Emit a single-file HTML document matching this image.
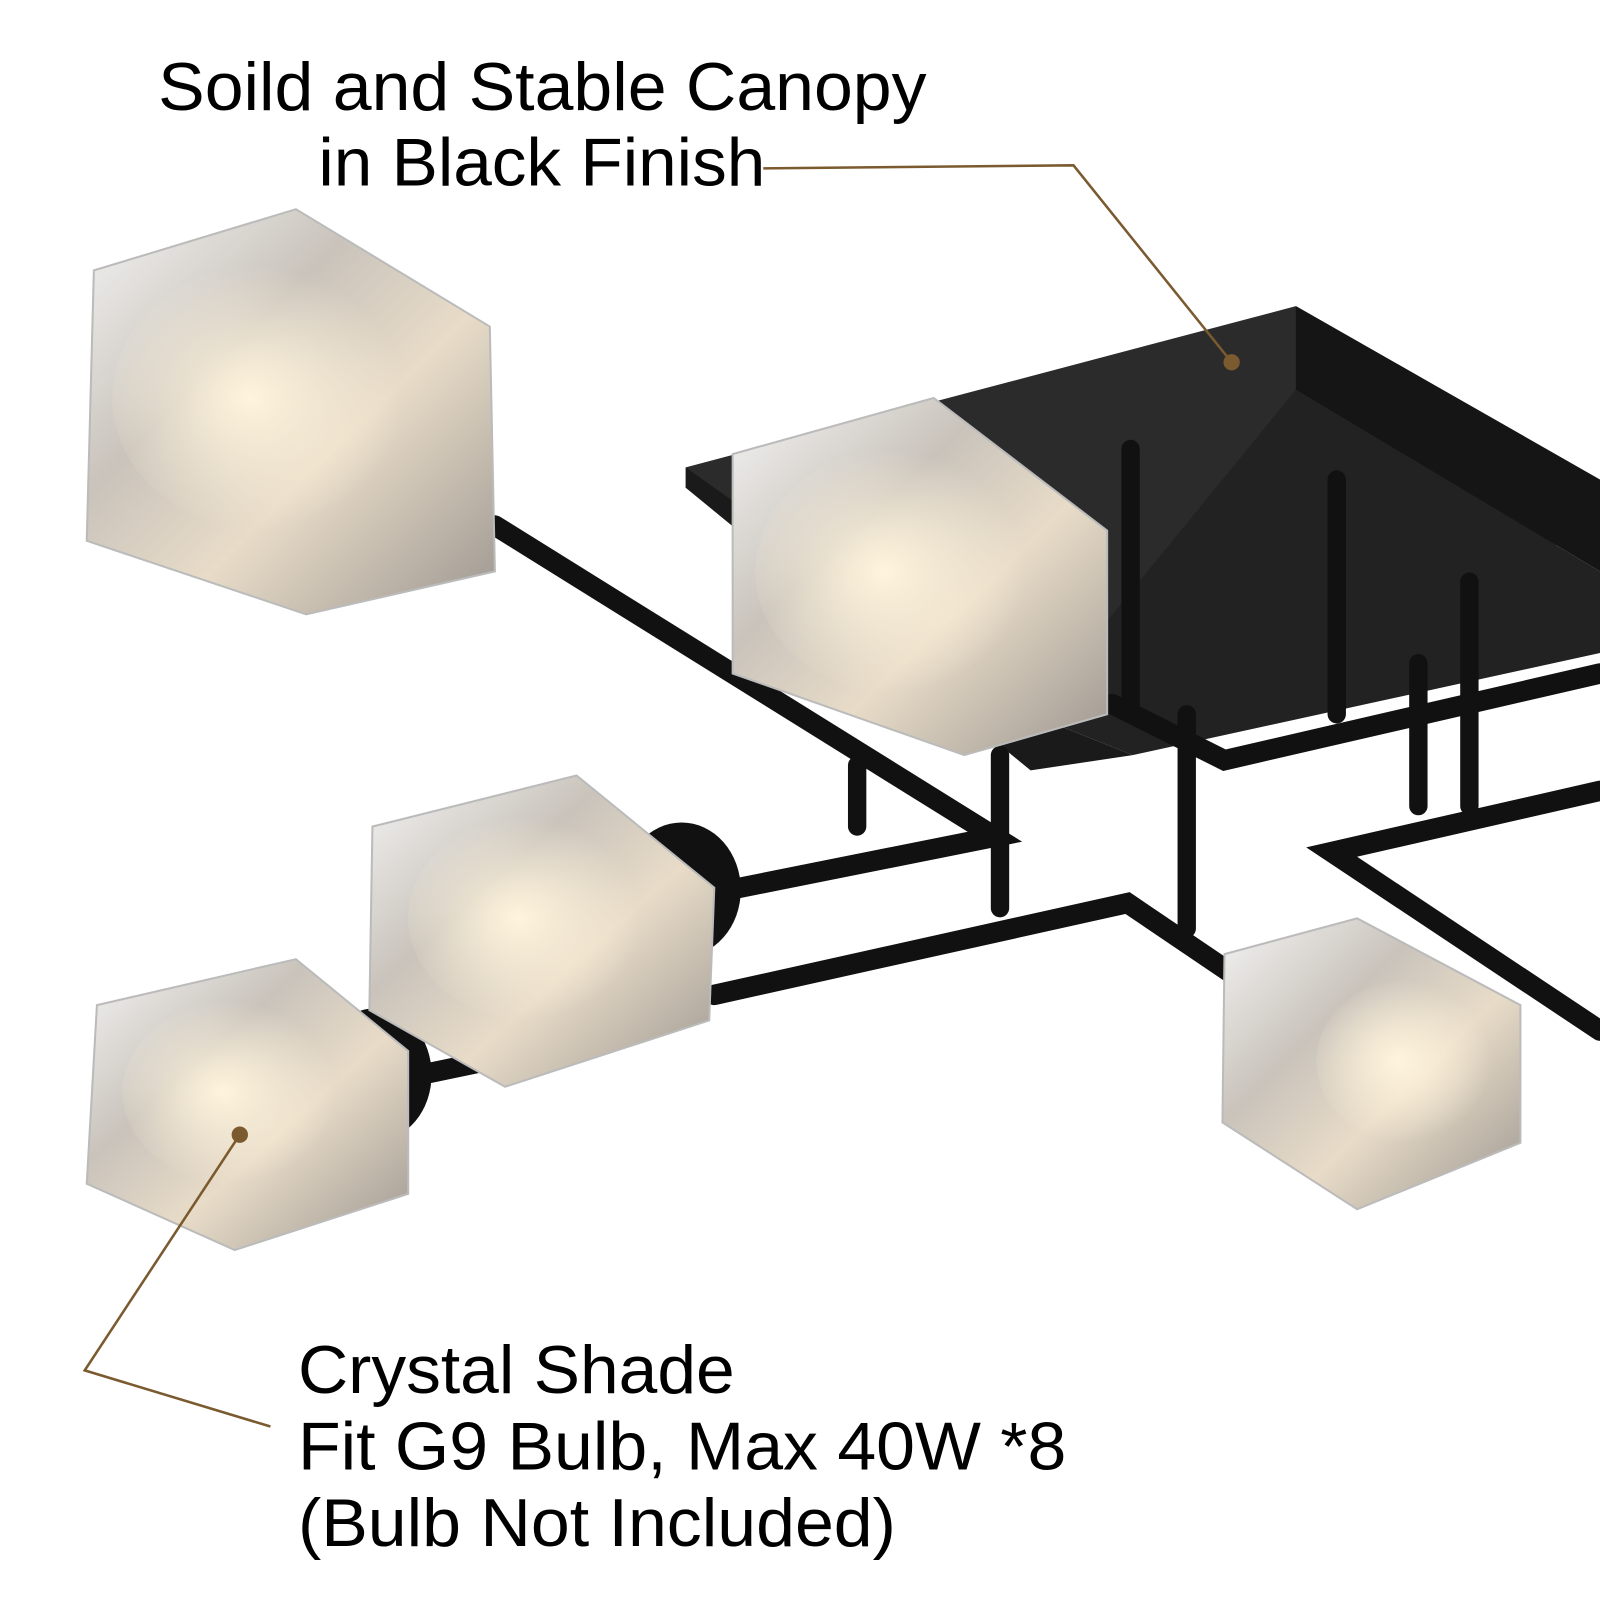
<!DOCTYPE html>
<html><head><meta charset="utf-8"><style>
html,body{margin:0;padding:0;background:#fff;width:1600px;height:1600px;overflow:hidden}
svg{display:block}
text{font-family:"Liberation Sans",sans-serif;fill:#000}
</style></head><body>
<svg width="1600" height="1600" viewBox="0 0 1568 1568" xmlns="http://www.w3.org/2000/svg">
<defs>
<linearGradient id="cg" x1="0" y1="0" x2="1" y2="1">
<stop offset="0" stop-color="#f4f4f4"/><stop offset="0.35" stop-color="#c9c3bb"/><stop offset="0.6" stop-color="#e8dcc8"/><stop offset="1" stop-color="#9c9690"/></linearGradient>
<radialGradient id="glow" cx="0.45" cy="0.5" r="0.5"><stop offset="0" stop-color="#fff4dc"/><stop offset="1" stop-color="#fff4dc" stop-opacity="0"/></radialGradient>
</defs>
<rect width="1568" height="1568" fill="#fff"/>
<!-- canopy -->
<polygon points="672,458 1270,300 1568,470 1568,520 1010,700 672,478" fill="#2b2b2b"/>
<polygon points="672,458 672,478 1010,755 1110,740 1010,700" fill="#1a1a1a"/>
<polygon points="1270,300 1270,382 1568,560 1568,470" fill="#151515"/>
<polygon points="1010,700 1270,382 1568,560 1568,640 1110,740" fill="#222"/>
<!-- rods -->
<g stroke="#111" stroke-width="18" stroke-linecap="round" fill="none">
<line x1="1108" y1="440" x2="1108" y2="690"/>
<line x1="1310" y1="470" x2="1310" y2="700"/>
<line x1="1440" y1="570" x2="1440" y2="790"/>
<line x1="1390" y1="650" x2="1390" y2="790"/>
<line x1="1163" y1="700" x2="1163" y2="910"/>
<line x1="980" y1="740" x2="980" y2="890"/>
<line x1="840" y1="750" x2="840" y2="810"/>
</g>
<g stroke="#111" stroke-width="20" stroke-linecap="round" fill="none">
<polyline points="485,515 975,820 700,875"/>
<polyline points="700,975 1105,885 1260,990"/>
<polyline points="1090,690 1200,745 1568,660"/>
<polyline points="1568,775 1305,835 1568,1010"/>
<line x1="380" y1="1060" x2="620" y2="1010"/>
</g>
<!-- sockets -->
<ellipse cx="668" cy="872" rx="58" ry="66" fill="#111"/>
<ellipse cx="368" cy="1053" rx="55" ry="65" fill="#111"/>
<ellipse cx="1285" cy="1008" rx="58" ry="64" fill="#111"/>
<!-- crystal cubes -->
<g stroke="#bbb" stroke-width="2">
<polygon points="92,265 290,205 480,320 485,560 300,602 85,530" fill="url(#cg)"/>
<polygon points="718,445 915,390 1085,520 1085,700 945,740 718,660" fill="url(#cg)"/>
<polygon points="365,810 565,760 700,870 695,1000 495,1065 362,990" fill="url(#cg)"/>
<polygon points="95,985 290,940 400,1030 400,1170 230,1225 85,1160" fill="url(#cg)"/>
<polygon points="1200,935 1330,900 1490,985 1490,1120 1330,1185 1198,1100" fill="url(#cg)"/>
</g>
<g fill="url(#glow)">
<ellipse cx="260" cy="390" rx="150" ry="130"/>
<ellipse cx="880" cy="560" rx="140" ry="120"/>
<ellipse cx="520" cy="900" rx="120" ry="100"/>
<ellipse cx="230" cy="1070" rx="110" ry="90"/>
<ellipse cx="1380" cy="1040" rx="90" ry="80"/>
</g>
<!-- leaders -->
<g stroke="#7a5a2e" stroke-width="2.5" fill="none">
<polyline points="748,165 1052,162 1207,355"/>
<polyline points="235,1112 83,1343 265,1398"/>
</g>
<circle cx="1207" cy="355" r="8" fill="#7a5a2e"/>
<circle cx="235" cy="1112" r="8" fill="#7a5a2e"/>
<!-- text -->
<text x="155" y="108" font-size="66" textLength="753" lengthAdjust="spacingAndGlyphs">Soild and Stable Canopy</text>
<text x="312" y="182" font-size="66" textLength="438" lengthAdjust="spacingAndGlyphs">in Black Finish</text>
<text x="292" y="1365" font-size="66" textLength="428" lengthAdjust="spacingAndGlyphs">Crystal Shade</text>
<text x="292" y="1440" font-size="66" textLength="753" lengthAdjust="spacingAndGlyphs">Fit G9 Bulb, Max 40W *8</text>
<text x="292" y="1515" font-size="66" textLength="586" lengthAdjust="spacingAndGlyphs">(Bulb Not Included)</text>
</svg>
</body></html>
